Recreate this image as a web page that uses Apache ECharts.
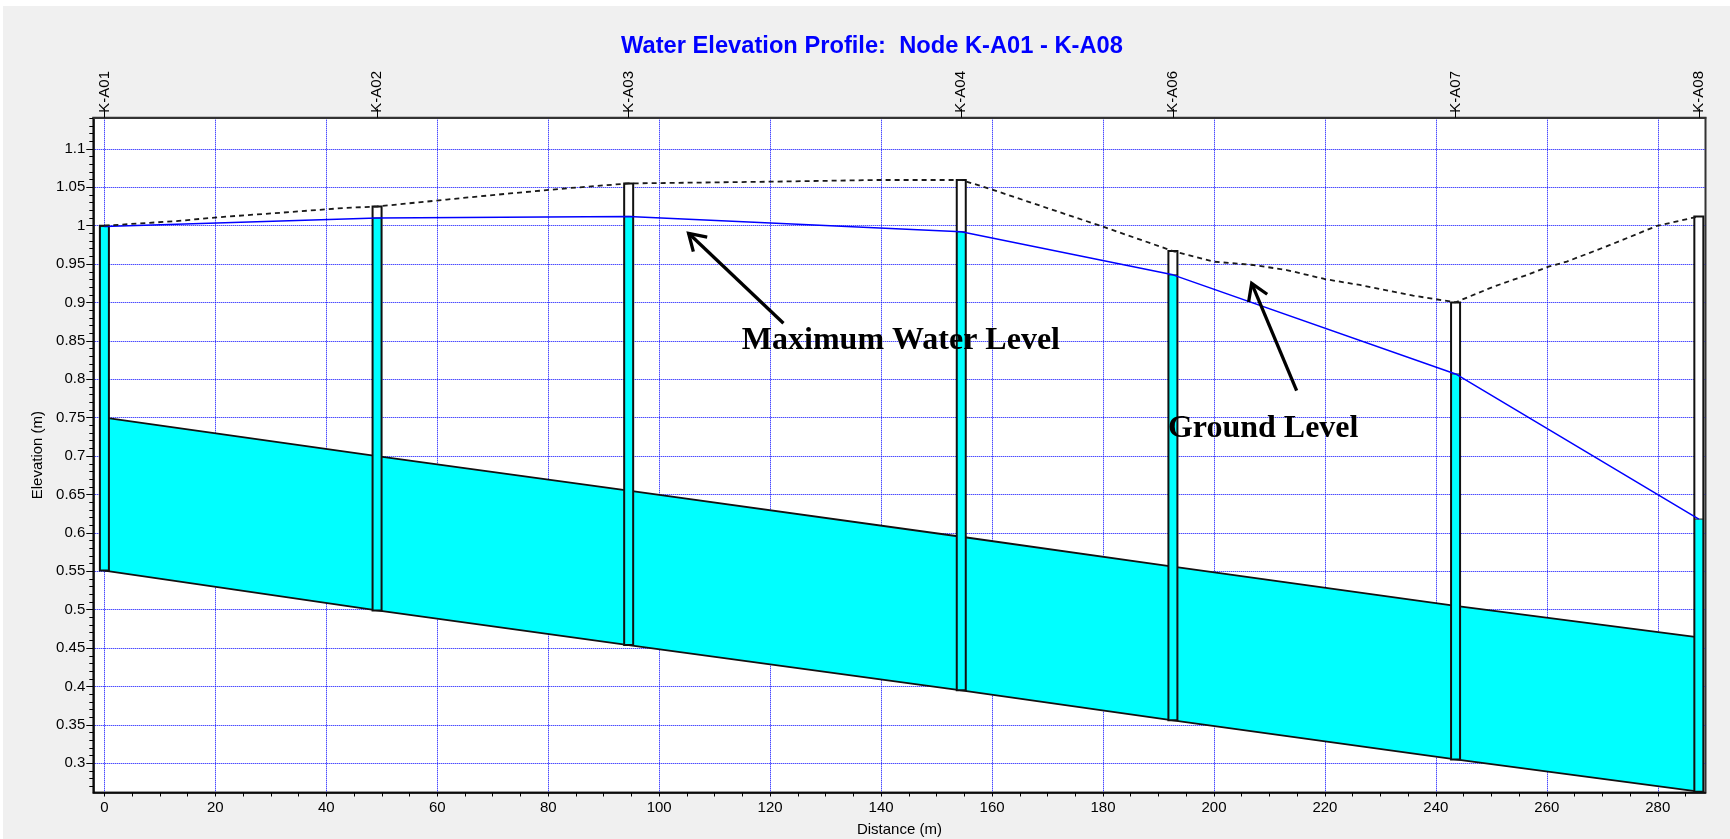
<!DOCTYPE html>
<html><head><meta charset="utf-8">
<script src="https://cdn.jsdelivr.net/npm/echarts@6/dist/echarts.min.js"></script>
<style>
html,body{margin:0;padding:0;background:#fff;width:1730px;height:839px;overflow:hidden;}
#chart{position:absolute;left:3px;top:6px;width:1727px;height:833px;}
</style></head><body><div id="chart"></div>
<script>
// ---- data ----
const nodeNames = ['K-A01','K-A02','K-A03','K-A04','K-A06','K-A07','K-A08'];
const nodeDist = [0, 49.15, 94.5, 154.45, 192.6, 243.55, 287.4];
const invertLevel = [0.551, 0.499, 0.454, 0.395, 0.356, 0.305, 0.263];
const crownLevel = [0.750, 0.700, 0.655, 0.595, 0.556, 0.505, 0.464];
const waterLevel = [0.999, 1.010, 1.012, 0.992, 0.936, 0.807, 0.618];
const groundNodeLevel = [1.000, 1.025, 1.055, 1.0595, 0.967, 0.900, 1.012];
const groundDist = [0, 13.0, 20.5, 32.0, 43.1, 49.15, 61.7, 73.1, 83.9, 94.5, 120, 139.5, 154.45, 159.3, 180, 192.6, 199.9, 207.1, 213.1, 219.9, 226.3, 232.3, 235.9, 243.55, 250.4, 256.4, 260.3, 263.6, 271.4, 279.8, 287.4];
const groundLevel = [1.000, 1.006, 1.011, 1.017, 1.023, 1.025, 1.034, 1.042, 1.049, 1.055, 1.0573, 1.0595, 1.0595, 1.0487, 0.9987, 0.967, 0.9532, 0.9488, 0.9423, 0.9306, 0.9228, 0.9141, 0.9089, 0.9003, 0.9206, 0.9358, 0.9466, 0.9532, 0.9749, 0.9996, 1.012];
const xTickValues = [0,20,40,60,80,100,120,140,160,180,200,220,240,260,280];
const yTickValues = [0.3,0.35,0.4,0.45,0.5,0.55,0.6,0.65,0.7,0.75,0.8,0.85,0.9,0.95,1,1.05,1.1];
const annotationText = ['Maximum Water Level', 'Ground Level'];
const annotationTextAt = [[114.9, 0.85], [191.7, 0.735]];
const arrowTail = [[122.4, 0.8729], [214.9, 0.7852]];
const arrowTip = [[105.3, 0.9901], [206.8, 0.925]];

// ---- build ----
const pipeData = nodeDist.slice(0, -1).map((d, i) => [d, nodeDist[i+1], invertLevel[i], invertLevel[i+1], crownLevel[i], crownLevel[i+1]]);
const boxData = nodeDist.map((d, i) => [d, invertLevel[i], waterLevel[i], groundNodeLevel[i]]);
const waterData = nodeDist.map((d, i) => [d, waterLevel[i]]);
const groundData = groundDist.map((d, i) => [d, groundLevel[i]]);
const annData = arrowTail.map((t, i) => [t[0], t[1], arrowTip[i][0], arrowTip[i][1], annotationTextAt[i][0], annotationTextAt[i][1]]);

const FONT = 'Liberation Sans, Arial, sans-serif';
const fmt = v => String(+(+v).toFixed(2));

const chart = echarts.init(document.getElementById('chart'));
const option = {
  animation: false,
  backgroundColor: '#f0f0f0',
  title: {
    text: 'Water Elevation Profile:  Node K-A01 - K-A08',
    left: 613, top: 23,
    textStyle: { color: '#0000ff', fontSize: 23.7, fontWeight: 'bold', fontFamily: FONT }
  },
  grid: {
    left: 90.3, top: 111.7, right: 24.5, bottom: 46.5,
    show: true, backgroundColor: '#ffffff', borderColor: '#333', borderWidth: 2,
    containLabel: false, outerBoundsMode: 'none'
  },
  xAxis: [{
    type: 'value', position: 'bottom', min: -2, max: 288.6,
    splitNumber: 15, minInterval: 20, maxInterval: 20,
    name: 'Distance (m)', nameLocation: 'middle', nameGap: 30,
    nameTextStyle: { fontSize: 15, color: '#000', fontFamily: FONT },
    axisLine: { show: true, onZero: false, lineStyle: { color: '#000', width: 1.5 } },
    axisTick: { show: true, customValues: xTickValues, length: 4, lineStyle: { color: '#000' } },
    minorTick: { show: true, splitNumber: 4, length: 4, lineStyle: { color: '#000' } },
    axisLabel: { customValues: xTickValues, margin: 8, fontSize: 15, color: '#000', fontFamily: FONT, formatter: fmt },
    splitLine: { show: true, lineStyle: { color: '#0000ff', type: [1, 1], width: 1 } }
  }, {
    type: 'value', position: 'top', min: -2, max: 288.6,
    axisLine: { show: true, onZero: false, lineStyle: { color: '#333', width: 2 } },
    axisTick: { show: true, customValues: nodeDist, length: 9, lineStyle: { color: '#000' } },
    axisLabel: {
      customValues: nodeDist, rotate: -90, margin: 5, fontSize: 15, color: '#000', fontFamily: FONT,
      formatter: v => { const i = nodeDist.findIndex(d => Math.abs(d - v) < 1e-6); return i >= 0 ? nodeNames[i] : ''; }
    },
    splitLine: { show: false }, minorTick: { show: false }
  }],
  yAxis: {
    type: 'value', min: 0.262, max: 1.1406,
    splitNumber: 17, minInterval: 0.05, maxInterval: 0.05,
    name: 'Elevation (m)', nameLocation: 'middle', nameGap: 40, nameRotate: 90,
    nameTextStyle: { fontSize: 15, color: '#000', fontFamily: FONT },
    axisLine: { show: true, onZero: false, lineStyle: { color: '#000', width: 1.5 } },
    axisTick: { show: true, customValues: yTickValues, length: 7, lineStyle: { color: '#000' } },
    minorTick: { show: true, splitNumber: 5, length: 4, lineStyle: { color: '#000' } },
    axisLabel: { customValues: yTickValues, margin: 8, fontSize: 15, color: '#000', fontFamily: FONT, formatter: fmt },
    splitLine: { show: true, lineStyle: { color: '#0000ff', type: [1, 1], width: 1 } }
  },
  series: [{
    type: 'custom', name: 'Pipe', data: pipeData, z: 2,
    dimensions: ['x0','x1','i0','i1','c0','c1'],
    encode: { x: [0, 1], y: [2, 3, 4, 5] },
    renderItem(params, api) {
      const a = api.coord([api.value(0), api.value(2)]);
      const b = api.coord([api.value(1), api.value(3)]);
      const c = api.coord([api.value(1), api.value(5)]);
      const d = api.coord([api.value(0), api.value(4)]);
      return { type: 'group', children: [
        { type: 'polygon', shape: { points: [a, b, c, d] }, style: { fill: '#00ffff' } },
        { type: 'line', shape: { x1: a[0], y1: a[1], x2: b[0], y2: b[1] }, style: { stroke: '#111', lineWidth: 1.8 } },
        { type: 'line', shape: { x1: d[0], y1: d[1], x2: c[0], y2: c[1] }, style: { stroke: '#111', lineWidth: 1.8 } }
      ]};
    }
  }, {
    type: 'custom', name: 'Manholes', data: boxData, z: 3,
    dimensions: ['x','inv','wl','gl'],
    encode: { x: 0, y: [1, 2, 3] },
    renderItem(params, api) {
      const x = api.value(0);
      const bot = api.coord([x, api.value(1)]);
      const wat = api.coord([x, api.value(2)]);
      const top = api.coord([x, api.value(3)]);
      const w = 9, left = bot[0] - w / 2;
      return { type: 'group', children: [
        { type: 'rect', shape: { x: left, y: top[1], width: w, height: bot[1] - top[1] }, style: { fill: '#ffffff' } },
        { type: 'rect', shape: { x: left, y: wat[1], width: w, height: bot[1] - wat[1] }, style: { fill: '#00ffff' } },
        { type: 'line', shape: { x1: left, y1: wat[1], x2: left + w, y2: wat[1] }, style: { stroke: '#444', lineWidth: 1.2 } },
        { type: 'rect', shape: { x: left, y: top[1], width: w, height: bot[1] - top[1] }, style: { fill: null, stroke: '#111', lineWidth: 2 } }
      ]};
    }
  }, {
    type: 'line', name: 'Maximum Water Level', data: waterData, z: 4,
    symbol: 'none', lineStyle: { color: '#0000ff', width: 1.5 }
  }, {
    type: 'line', name: 'Ground Level', data: groundData, z: 5,
    symbol: 'none', lineStyle: { color: '#1a1a1a', width: 1.8, type: [5, 4] }
  }, {
    type: 'custom', name: 'Annotations', data: annData, z: 6,
    dimensions: ['tx','ty','hx','hy','lx','ly'],
    encode: { x: [0, 2, 4], y: [1, 3, 5] },
    renderItem(params, api) {
      const tail = api.coord([api.value(0), api.value(1)]);
      const tip = api.coord([api.value(2), api.value(3)]);
      const lab = api.coord([api.value(4), api.value(5)]);
      const dx = tail[0] - tip[0], dy = tail[1] - tip[1];
      const L = Math.sqrt(dx * dx + dy * dy), ux = dx / L, uy = dy / L;
      const ang = 32 * Math.PI / 180, hl = 19;
      const w1 = [tip[0] + hl * (ux * Math.cos(ang) - uy * Math.sin(ang)), tip[1] + hl * (ux * Math.sin(ang) + uy * Math.cos(ang))];
      const w2 = [tip[0] + hl * (ux * Math.cos(-ang) - uy * Math.sin(-ang)), tip[1] + hl * (ux * Math.sin(-ang) + uy * Math.cos(-ang))];
      return { type: 'group', children: [
        { type: 'line', shape: { x1: tail[0], y1: tail[1], x2: tip[0], y2: tip[1] }, style: { stroke: '#000', lineWidth: 3.3 } },
        { type: 'polyline', shape: { points: [w1, tip, w2] }, style: { stroke: '#000', lineWidth: 3.3, fill: null } },
        { type: 'text', style: { text: annotationText[params.dataIndex], x: lab[0], y: lab[1], align: 'left', verticalAlign: 'middle',
            font: 'bold 32px "Liberation Serif", "Times New Roman", serif', fill: '#000' } }
      ]};
    }
  }]
};
chart.setOption(option);
</script></body></html>
